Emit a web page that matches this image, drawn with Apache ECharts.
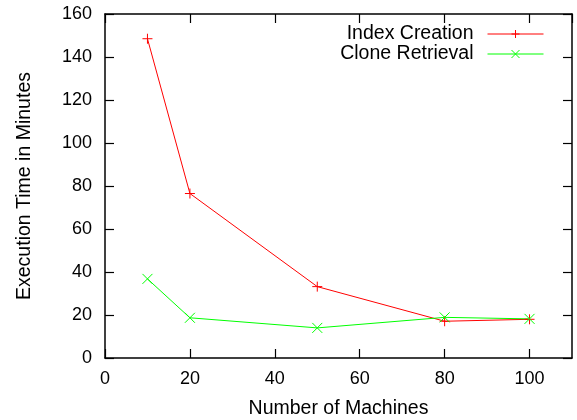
<!DOCTYPE html>
<html>
<head>
<meta charset="utf-8">
<script src="https://cdn.jsdelivr.net/npm/echarts@6/dist/echarts.min.js"></script>
<style>
html, body { margin: 0; padding: 0; background: #fff; }
#chart { width: 577px; height: 420px; }
</style>
</head>
<body>
<div id="chart"></div>
<script>
var machines = [10, 20, 50, 80, 100];
var indexCreation = [148.5, 76.5, 33.2, 17.1, 18];
var cloneRetrieval = [36.8, 18.7, 14, 18.9, 18.2];

var plusIcon = 'path://M0,5 L10,5 M5,0 L5,10';
var crossIcon = 'path://M0,0 L10,10 M10,0 L0,10';

function pairs(xs, ys) {
	var out = [];
	for (var i = 0; i < xs.length; i++) {
		out.push([xs[i], ys[i]]);
	}
	return out;
}

var font = 'Liberation Sans, Arial, sans-serif';

var chart = echarts.init(document.getElementById('chart'));

// gnuplot style: frame on all four sides, ticks inside and mirrored
function axisBase(show) {
	return {
		axisLine: { show: true, onZero: false, lineStyle: { color: '#000', width: 1.5 } },
		axisTick: { show: true, inside: true, length: 9, lineStyle: { color: '#000', width: 1.2 } },
		axisLabel: { show: show, color: '#000', fontSize: 18, fontFamily: font },
		splitLine: { show: false }
	};
}

var xBottom = axisBase(true);
xBottom.type = 'value';
xBottom.min = 0;
xBottom.max = 110;
xBottom.interval = 20;
xBottom.position = 'bottom';
xBottom.axisLabel.margin = 12;
xBottom.axisLabel.showMaxLabel = false;
xBottom.name = 'Number of Machines';
xBottom.nameLocation = 'middle';
xBottom.nameGap = 41;
xBottom.nameTextStyle = { color: '#000', fontSize: 19.5, fontFamily: font };

var xTop = axisBase(false);
xTop.type = 'value';
xTop.min = 0;
xTop.max = 110;
xTop.interval = 20;
xTop.position = 'top';

var yLeft = axisBase(true);
yLeft.type = 'value';
yLeft.min = 0;
yLeft.max = 160;
yLeft.interval = 20;
yLeft.position = 'left';
yLeft.axisLabel.margin = 13;
yLeft.name = 'Execution Time in Minutes';
yLeft.nameLocation = 'middle';
yLeft.nameGap = 70;
yLeft.nameTextStyle = { color: '#000', fontSize: 19.5, fontFamily: font };

var yRight = axisBase(false);
yRight.type = 'value';
yRight.min = 0;
yRight.max = 160;
yRight.interval = 20;
yRight.position = 'right';

var option = {
	animation: false,
	grid: { left: 105, right: 5, top: 14, bottom: 62, outerBoundsMode: 'none', containLabel: false },
	legend: {
		orient: 'vertical',
		right: 28,
		top: 19,
		align: 'right',
		itemWidth: 56,
		itemHeight: 10,
		itemGap: 0,
		lineStyle: { width: 1 },
		itemStyle: { borderWidth: 1 },
		textStyle: { color: '#000', fontSize: 19.5, lineHeight: 20, fontFamily: font, padding: [0, 9, 0, 0] },
		data: ['Index Creation', 'Clone Retrieval']
	},
	xAxis: [xBottom, xTop],
	yAxis: [yLeft, yRight],
	series: [
		{
			name: 'Index Creation',
			type: 'line',
			data: pairs(machines, indexCreation),
			symbol: plusIcon,
			symbolSize: 10,
			itemStyle: { color: '#ff0000', borderColor: '#ff0000', borderWidth: 1 },
			lineStyle: { color: '#ff0000', width: 1 }
		},
		{
			name: 'Clone Retrieval',
			type: 'line',
			data: pairs(machines, cloneRetrieval),
			symbol: crossIcon,
			symbolSize: 10,
			itemStyle: { color: '#00ff00', borderColor: '#00ff00', borderWidth: 1 },
			lineStyle: { color: '#00ff00', width: 1 }
		}
	]
};

chart.setOption(option);
</script>
</body>
</html>
